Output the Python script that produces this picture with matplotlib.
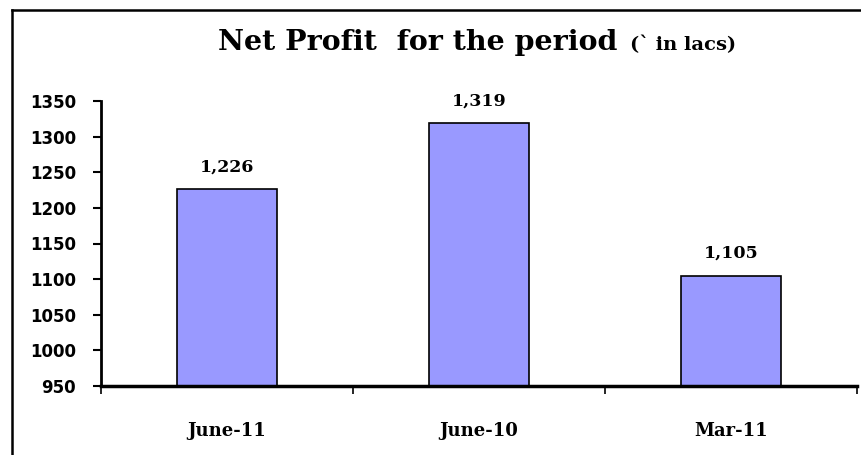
import matplotlib
matplotlib.use("Agg")
import matplotlib.pyplot as plt
from matplotlib.lines import Line2D

categories = ["June-11", "June-10", "Mar-11"]
values = [1226, 1319, 1105]
yticks = [950, 1000, 1050, 1100, 1150, 1200, 1250, 1300, 1350]

W, H = 861, 455
fig = plt.figure(figsize=(W / 100, H / 100), dpi=100)
fig.patch.set_facecolor("white")

L, R, T, B = 101, 857, 101, 386
ax = fig.add_axes([L / W, 1 - B / H, (R - L) / W, (B - T) / H])

x = list(range(len(categories)))
ax.bar(x, values, width=0.4, bottom=0, color="#9999FF", edgecolor="black", linewidth=1.2, zorder=2)
ax.set_xlim(-0.5, 2.5)
ax.set_ylim(950, 1350)
ax.set_yticks(yticks)
ax.set_yticklabels([str(v) for v in yticks], fontfamily="DejaVu Sans", fontweight="bold", fontsize=12)

ax.set_xticks([-0.5, 0.5, 1.5, 2.5])
ax.set_xticklabels([])
ax.set_xticks(x, minor=True)
ax.set_xticklabels(categories, minor=True, fontfamily="DejaVu Serif", fontweight="bold", fontsize=13)
ax.tick_params(axis="x", which="minor", length=0, pad=26)
ax.tick_params(axis="x", which="major", length=6, width=1.2, direction="out")
ax.tick_params(axis="y", length=6, width=1.5, direction="out", pad=12)

for s in ["top", "right"]:
    ax.spines[s].set_visible(False)
ax.spines["left"].set_linewidth(2)
ax.spines["bottom"].set_linewidth(2.5)

for xi, v in zip(x, values):
    ax.annotate(f"{v:,}", (xi, v), xytext=(0, 10), textcoords="offset points",
                ha="center", va="bottom", fontfamily="DejaVu Serif", fontweight="bold", fontsize=12.5)

fig.text(218 / W, 1 - 50 / H, "Net Profit  for the period", ha="left", va="baseline",
         fontfamily="DejaVu Serif", fontweight="bold", fontsize=20.5)
fig.text(630 / W, 1 - 50 / H, "(` in lacs)", ha="left", va="baseline",
         fontfamily="DejaVu Serif", fontweight="bold", fontsize=14)

fig.add_artist(Line2D([12 / W, 12 / W], [0, 1 - 10 / H], color="black", linewidth=1.8))
fig.add_artist(Line2D([12 / W, 1], [1 - 10 / H, 1 - 10 / H], color="black", linewidth=1.8))

fig.savefig("out.png", dpi=100, facecolor="white")
